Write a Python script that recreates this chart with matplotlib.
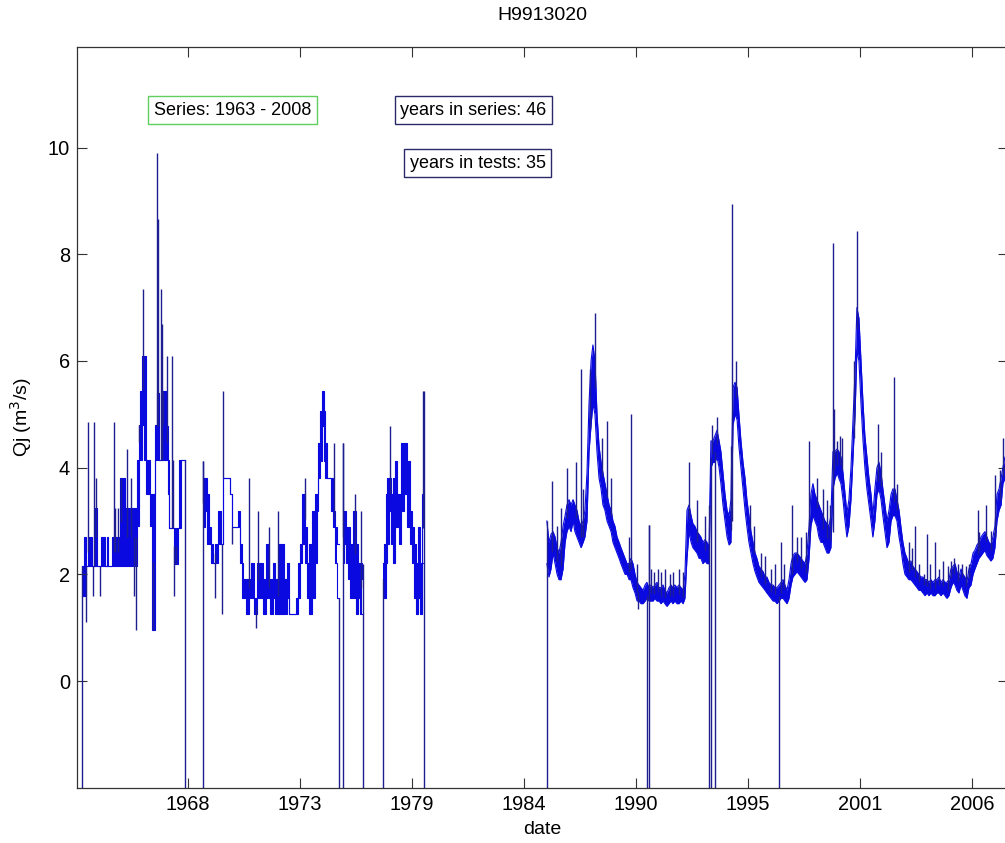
import numpy as np
import matplotlib.pyplot as plt

plt.rcParams['font.family'] = ['Liberation Sans', 'DejaVu Sans']

# daily discharge Qj (m3/s), reduced to min / max per short bin (decimal years)
# 1963 - 1967
yr_a = [1963.12, 1963.21, 1963.31, 1963.41, 1963.61, 1963.75, 1963.85, 1964.05, 1964.24, 1964.32,
        1964.40, 1964.57, 1964.98, 1965.22, 1965.55, 1965.63, 1965.79, 1965.88, 1965.95, 1966.05,
        1966.15, 1966.25, 1966.44, 1966.54, 1966.69, 1966.78, 1966.88, 1967.03, 1967.22, 1967.30,
        1967.35, 1967.61, 1967.81, 1967.88, 1967.96]
lo_a = [1.6, 1.6, 2.15, 2.15, 2.15, 2.15, 2.15, 2.15, 2.15, 2.15,
        2.15, 2.15, 2.15, 2.15, 2.7, 2.15, 2.9, 4.15, 4.15, 4.8,
        4.15, 3.5, 2.9, 0.95, 4.15, 4.15, 4.15, 4.15, 4.15, 3.5,
        2.87, 2.2, 2.87, 2.87, 4.15]
hi_a = [2.15, 2.7, 2.15, 2.7, 2.15, 3.25, 2.15, 2.7, 2.15, 2.7,
        2.15, 2.7, 3.8, 3.25, 3.25, 3.25, 4.15, 4.8, 5.44, 6.1,
        6.1, 4.15, 3.5, 3.5, 4.8, 5.4, 4.15, 5.44, 4.78, 4.15,
        2.87, 2.87, 2.87, 4.15, 4.15]

# 1969 - 1975
yr_b = [1969.03, 1969.13, 1969.23, 1969.33, 1969.43, 1969.52, 1969.62, 1969.77, 1969.91, 1970.00,
        1970.35, 1970.44, 1970.75, 1970.84, 1970.92, 1970.99, 1971.14, 1971.28, 1971.38, 1971.53,
        1971.67, 1971.82, 1971.97, 1972.11, 1972.21, 1972.31, 1972.46, 1972.55, 1972.75, 1972.99,
        1973.14, 1973.24, 1973.58, 1973.68, 1973.78, 1973.88, 1974.02, 1974.12, 1974.22, 1974.36,
        1974.51, 1974.61, 1974.68, 1974.76, 1974.85, 1974.95, 1975.02, 1975.10, 1975.29, 1975.39,
        1975.49, 1975.59]
lo_b = [2.88, 3.19, 2.57, 2.57, 2.22, 2.22, 2.22, 2.57, 2.57, 3.81,
        3.51, 2.88, 2.88, 2.22, 1.56, 1.56, 1.26, 1.56, 1.56, 1.26,
        1.56, 1.56, 1.26, 1.56, 1.56, 1.26, 1.56, 1.26, 1.26, 1.26,
        1.56, 1.26, 1.26, 1.56, 2.22, 2.57, 2.22, 1.56, 1.26, 1.56,
        2.22, 3.19, 3.81, 4.13, 4.78, 4.13, 3.81, 3.81, 3.19, 2.88,
        2.22, 1.56]
hi_b = [3.81, 3.81, 3.51, 2.88, 2.57, 2.22, 2.57, 3.19, 2.57, 3.81,
        3.51, 2.88, 3.19, 2.57, 2.22, 1.91, 1.91, 1.91, 2.22, 1.56,
        2.22, 2.22, 1.91, 2.57, 1.91, 1.91, 2.22, 1.91, 2.57, 1.91,
        2.22, 1.26, 1.56, 2.22, 2.57, 3.51, 2.88, 2.22, 2.57, 3.19,
        3.51, 3.51, 4.47, 5.07, 5.44, 5.07, 4.47, 3.81, 3.81, 3.19,
        2.88, 2.57]

# 1975 - 1976
yr_c = [1975.88, 1975.93, 1976.03, 1976.12, 1976.22, 1976.37, 1976.52, 1976.61, 1976.71, 1976.81]
lo_c = [2.22, 2.57, 2.22, 1.91, 1.56, 1.56, 1.26, 1.56, 1.26, 1.26]
hi_c = [3.19, 3.19, 2.88, 2.88, 2.57, 3.19, 2.57, 2.22, 2.22, 1.91]

# 1977 - 1979
yr_d = [1977.84, 1977.88, 1977.96, 1978.03, 1978.13, 1978.23, 1978.32, 1978.42, 1978.52, 1978.62,
        1978.72, 1978.86, 1979.01, 1979.16, 1979.25, 1979.35, 1979.45, 1979.55, 1979.64, 1979.74]
lo_d = [1.91, 1.56, 2.22, 2.57, 3.19, 2.57, 2.22, 2.88, 2.88, 2.57,
        3.19, 3.51, 2.88, 2.57, 2.22, 1.56, 1.26, 1.56, 1.26, 2.22]
hi_d = [2.22, 2.57, 3.51, 3.81, 3.81, 3.51, 3.81, 4.13, 3.51, 3.51,
        4.47, 4.47, 4.13, 3.19, 2.88, 2.57, 2.22, 2.88, 2.22, 3.51]

# 1985 - 2008
yr_e = [1985.85, 1985.95, 1986.05, 1986.15, 1986.25, 1986.35, 1986.44, 1986.54, 1986.64, 1986.74,
        1986.83, 1986.93, 1987.03, 1987.13, 1987.22, 1987.32, 1987.42, 1987.52, 1987.62, 1987.71,
        1987.81, 1987.91, 1988.01, 1988.10, 1988.20, 1988.30, 1988.40, 1988.50, 1988.59, 1988.69,
        1988.79, 1988.89, 1988.99, 1989.08, 1989.18, 1989.28, 1989.38, 1989.47, 1989.57, 1989.67,
        1989.77, 1989.87, 1989.96, 1990.06, 1990.16, 1990.26, 1990.35, 1990.45, 1990.55, 1990.65,
        1990.74, 1990.84, 1990.94, 1991.04, 1991.13, 1991.23, 1991.33, 1991.43, 1991.53, 1991.62,
        1991.72, 1991.82, 1991.92, 1992.01, 1992.11, 1992.21, 1992.31, 1992.41, 1992.51, 1992.60,
        1992.70, 1992.80, 1992.90, 1992.99, 1993.09, 1993.19, 1993.29, 1993.38, 1993.48, 1993.58,
        1993.68, 1993.78, 1993.87, 1993.97, 1994.07, 1994.17, 1994.27, 1994.36, 1994.46, 1994.56,
        1994.66, 1994.76, 1994.85, 1994.95, 1995.05, 1995.15, 1995.24, 1995.34, 1995.44, 1995.54,
        1995.63, 1995.73, 1995.83, 1995.93, 1996.03, 1996.12, 1996.22, 1996.32, 1996.42, 1996.52,
        1996.61, 1996.71, 1996.81, 1996.91, 1997.00, 1997.10, 1997.20, 1997.30, 1997.40, 1997.49,
        1997.59, 1997.69, 1997.79, 1997.88, 1997.98, 1998.08, 1998.18, 1998.28, 1998.37, 1998.47,
        1998.57, 1998.67, 1998.76, 1998.86, 1998.96, 1999.06, 1999.15, 1999.25, 1999.35, 1999.45,
        1999.55, 1999.64, 1999.74, 1999.84, 1999.94, 2000.04, 2000.13, 2000.23, 2000.33, 2000.43,
        2000.52, 2000.62, 2000.72, 2000.82, 2000.92, 2001.01, 2001.11, 2001.21, 2001.31, 2001.40,
        2001.50, 2001.60, 2001.70, 2001.79, 2001.89, 2001.99, 2002.09, 2002.19, 2002.28, 2002.38,
        2002.48, 2002.58, 2002.68, 2002.77, 2002.87, 2002.97, 2003.07, 2003.16, 2003.26, 2003.36,
        2003.46, 2003.55, 2003.65, 2003.75, 2003.85, 2003.95, 2004.04, 2004.14, 2004.24, 2004.34,
        2004.44, 2004.53, 2004.63, 2004.73, 2004.83, 2004.92, 2005.02, 2005.12, 2005.22, 2005.32,
        2005.41, 2005.51, 2005.61, 2005.71, 2005.81, 2005.90, 2006.00, 2006.10, 2006.20, 2006.29,
        2006.39, 2006.49, 2006.59, 2006.69, 2006.78, 2006.88, 2006.98, 2007.08, 2007.17, 2007.27,
        2007.37, 2007.47, 2007.56, 2007.66, 2007.76, 2007.86, 2007.96, 2008.06, 2008.15, 2008.25]
lo_e = [2.2, 1.95, 2.1, 2.4, 2.2, 2.0, 1.9, 1.9, 2.1, 2.6,
        2.8, 2.9, 2.8, 3.0, 2.8, 2.7, 2.6, 2.5, 2.6, 2.7,
        3.0, 4.3, 4.8, 5.2, 5.0, 4.3, 3.8, 3.6, 3.3, 3.2,
        3.0, 2.9, 2.8, 2.6, 2.5, 2.4, 2.3, 2.2, 2.1, 2.0,
        2.0, 1.9, 1.9, 1.75, 1.65, 1.5, 1.5, 1.45, 1.45, 1.5,
        1.55, 1.5, 1.5, 1.5, 1.55, 1.5, 1.5, 1.45, 1.5, 1.45,
        1.4, 1.45, 1.5, 1.45, 1.5, 1.45, 1.45, 1.5, 1.45, 1.55,
        2.3, 2.8, 2.6, 2.5, 2.45, 2.4, 2.3, 2.3, 2.2, 2.25,
        2.2, 2.2, 4.0, 4.1, 4.1, 4.2, 4.0, 3.7, 3.3, 3.0,
        2.7, 2.55, 2.6, 4.8, 5.0, 4.9, 4.4, 4.0, 3.6, 3.2,
        2.9, 2.6, 2.4, 2.2, 2.05, 1.95, 1.85, 1.8, 1.75, 1.7,
        1.65, 1.6, 1.55, 1.5, 1.5, 1.45, 1.5, 1.55, 1.55, 1.5,
        1.45, 1.55, 1.8, 1.95, 2.0, 2.05, 2.0, 1.95, 1.9, 1.85,
        1.9, 2.3, 2.9, 3.1, 3.0, 2.9, 2.7, 2.6, 2.6, 2.5,
        2.4, 2.4, 2.5, 3.6, 3.8, 3.9, 3.8, 3.7, 3.4, 3.0,
        2.7, 2.9, 3.4, 4.2, 5.0, 6.2, 6.0, 5.2, 4.5, 4.0,
        3.6, 3.3, 3.0, 2.7, 3.0, 3.5, 3.6, 3.4, 3.1, 2.8,
        2.5, 2.6, 3.0, 3.1, 3.1, 3.0, 2.7, 2.5, 2.2, 2.0,
        1.95, 1.9, 1.9, 1.85, 1.8, 1.75, 1.7, 1.7, 1.65, 1.6,
        1.65, 1.6, 1.65, 1.6, 1.6, 1.65, 1.65, 1.6, 1.65, 1.6,
        1.55, 1.6, 1.75, 1.85, 1.8, 1.7, 1.65, 1.8, 1.7, 1.6,
        1.55, 1.75, 1.8, 2.0, 2.1, 2.2, 2.3, 2.35, 2.4, 2.45,
        2.35, 2.3, 2.25, 2.3, 2.5, 3.0, 3.2, 3.3, 3.7, 3.8]
hi_e = [3.0, 2.6, 2.75, 2.8, 2.7, 2.5, 2.4, 2.6, 2.9, 3.1,
        3.3, 3.4, 3.3, 3.4, 3.3, 3.2, 3.0, 2.9, 3.0, 3.2,
        3.9, 5.2, 6.0, 6.3, 6.0, 5.0, 4.4, 4.1, 3.9, 3.7,
        3.5, 3.3, 3.2, 3.0, 2.9, 2.7, 2.6, 2.5, 2.4, 2.3,
        2.2, 2.2, 2.3, 2.2, 2.0, 1.85, 1.8, 1.75, 1.7, 1.8,
        1.85, 1.75, 1.8, 1.75, 1.8, 1.85, 1.75, 1.75, 1.8, 1.7,
        1.65, 1.75, 1.8, 1.75, 1.8, 1.75, 1.8, 1.75, 1.7, 2.0,
        3.2, 3.3, 3.1, 2.95, 2.9, 2.8, 2.75, 2.7, 2.6, 2.65,
        2.6, 2.5, 4.5, 4.5, 4.6, 4.7, 4.5, 4.3, 3.9, 3.5,
        3.2, 3.1, 3.4, 5.5, 5.6, 5.5, 5.0, 4.5, 4.1, 3.8,
        3.4, 3.1, 2.8, 2.6, 2.4, 2.3, 2.15, 2.1, 2.05, 1.95,
        1.95, 1.85, 1.8, 1.8, 1.75, 1.75, 1.8, 1.85, 1.9, 1.8,
        1.7, 1.9, 2.2, 2.35, 2.4, 2.4, 2.35, 2.3, 2.25, 2.2,
        2.4, 2.9, 3.5, 3.7, 3.5, 3.4, 3.3, 3.2, 3.1, 3.0,
        2.95, 2.9, 3.1, 4.3, 4.3, 4.35, 4.3, 4.2, 3.9, 3.5,
        3.15, 3.4, 4.0, 4.9, 5.8, 7.0, 6.8, 6.0, 5.2, 4.6,
        4.2, 3.8, 3.5, 3.1, 3.6, 4.0, 4.1, 3.9, 3.6, 3.3,
        3.0, 3.2, 3.5, 3.6, 3.6, 3.4, 3.2, 2.9, 2.6, 2.4,
        2.3, 2.2, 2.25, 2.15, 2.1, 2.05, 2.0, 1.95, 1.95, 1.9,
        1.9, 1.85, 1.9, 1.85, 1.9, 1.9, 1.95, 1.85, 1.9, 1.85,
        1.85, 1.9, 2.1, 2.15, 2.2, 2.05, 1.95, 2.1, 2.0, 1.95,
        1.85, 2.1, 2.2, 2.4, 2.45, 2.55, 2.6, 2.7, 2.75, 2.8,
        2.7, 2.6, 2.55, 2.7, 2.9, 3.5, 3.6, 3.8, 4.0, 4.2]

# where each run of data stops
seg_end = [1968.15, 1975.68, 1976.86, 1979.84, 2008.40]

# single-day peaks and dips sticking out of the band
spike_yr = [1963.30, 1963.42, 1963.67, 1963.72, 1963.80, 1964.00, 1964.66, 1964.73, 1964.86, 1965.02,
            1965.34, 1965.53, 1965.67, 1965.76, 1965.90, 1966.11, 1966.60, 1966.78, 1966.82, 1966.96,
            1967.01, 1967.09, 1967.26, 1967.53, 1967.58, 1967.61, 1967.69,
            1969.05, 1969.62, 1969.95, 1970.00, 1970.44, 1971.30, 1971.61, 1971.74, 1972.28, 1972.72,
            1974.01, 1975.45, 1975.89, 1976.47, 1976.75, 1978.18, 1979.79,
            1986.08, 1986.36, 1986.53, 1986.83, 1987.27, 1987.52, 1987.60, 1987.96, 1988.20, 1988.53,
            1988.77, 1988.98, 1989.88, 1989.96, 1990.26, 1990.30, 1990.83, 1990.94, 1991.09, 1991.28,
            1991.43, 1991.62, 1991.87, 1992.01, 1992.31, 1992.51, 1992.81, 1993.20, 1993.58, 1993.91,
            1994.18, 1994.84, 1994.92, 1995.10, 1995.78, 1995.98, 1996.32, 1996.52, 1996.81, 1997.00,
            1997.28, 1997.43, 1997.85, 1998.08, 1998.28, 1998.52, 1998.68, 1999.04, 1999.35, 1999.55,
            1999.69, 1999.83, 1999.91, 2000.02, 2000.18, 2000.29, 2000.87, 2001.03, 2002.03, 2002.19,
            2002.82, 2002.97, 2003.55, 2003.70, 2003.85, 2004.04, 2004.29, 2004.45, 2004.58, 2004.83,
            2005.02, 2005.22, 2005.46, 2005.61, 2005.76, 2005.95, 2006.15, 2006.34, 2006.49, 2006.91,
            2006.98, 2007.31, 2007.55, 2007.76, 2008.01, 2008.17]
spike_q = [1.1, 4.85, 1.6, 4.85, 3.8, 1.6, 4.85, 3.25, 3.25, 3.8,
           4.35, 3.8, 1.6, 0.95, 4.8, 7.35, 0.95, 9.9, 8.67, 7.35,
           6.7, 5.44, 6.1, 6.1, 4.15, 1.6, 2.2,
           4.13, 1.56, 1.26, 5.44, 2.57, 3.81, 1.0, 3.19, 2.88, 3.19,
           3.81, 4.47, 4.47, 3.51, 3.19, 4.78, 5.44,
           3.75, 2.9, 3.25, 4.0, 4.1, 5.85, 3.6, 5.85, 6.9, 4.56,
           4.87, 3.8, 2.7, 5.0, 2.2, 1.35, 2.93, 2.1, 2.05, 2.1,
           2.05, 2.1, 2.0, 2.05, 2.1, 2.05, 4.1, 3.4, 3.1, 4.8,
           4.94, 4.4, 8.95, 6.0, 3.3, 2.9, 2.4, 2.35, 2.1, 2.2,
           2.6, 2.2, 3.3, 2.7, 2.7, 2.8, 4.5, 3.8, 3.6, 3.4,
           3.3, 8.22, 5.1, 4.5, 4.6, 4.56, 6.0, 8.44, 4.82, 4.3,
           5.7, 3.7, 2.6, 2.5, 2.9, 2.2, 2.0, 2.75, 2.2, 2.6,
           2.1, 2.25, 2.15, 2.25, 2.3, 2.2, 2.2, 2.15, 2.2, 3.2,
           2.8, 3.3, 2.81, 3.86, 3.96, 4.56]

# days carrying the missing-value code: the line drops off the bottom
drop_yr = [1963.12, 1968.15, 1969.03, 1975.68, 1975.88, 1976.86, 1977.84, 1979.84,
           1985.86, 1990.73, 1990.83, 1993.79, 1993.86, 1994.08, 1997.20]
drop_top = [2.15, 4.15, 4.13, 1.56, 4.47, 2.2, 1.91, 5.44,
            3.0, 1.6, 2.93, 3.3, 4.2, 4.3, 1.6]

tick_yr = [1968.30, 1973.78, 1979.25, 1984.73, 1990.21, 1995.68, 2001.16, 2006.64]
tick_lab = ['1968', '1973', '1979', '1984', '1990', '1995', '2001', '2006']

# early record: coarse rating steps, drawn as steps
yr, lo, hi = [], [], []
for (s_yr, s_lo, s_hi), end in zip([(yr_a, lo_a, hi_a), (yr_b, lo_b, hi_b), (yr_c, lo_c, hi_c),
                                    (yr_d, lo_d, hi_d)], seg_end[:4]):
    yr += list(s_yr) + [end]
    lo += list(s_lo) + [np.nan]
    hi += list(s_hi) + [np.nan]
yr = np.array(yr)
lo = np.array(lo)
hi = np.array(hi)

# later record: finer values, drawn as a continuous band
yr2 = np.array(yr_e + [seg_end[4]])
lo2 = np.array(lo_e + [lo_e[-1]])
hi2 = np.array(hi_e + [hi_e[-1]])

blue = '#0a0ae0'
thin = '#1e1e90'

fig = plt.figure(figsize=(10.05, 8.43), dpi=100)
ax = fig.add_axes([0.0766, 0.0656, 0.9264, 0.8783])

ax.fill_between(yr, lo, hi, step='post', color=blue, lw=0)
ax.plot(yr, lo, drawstyle='steps-post', color=blue, lw=0.8)
ax.plot(yr, hi, drawstyle='steps-post', color=blue, lw=0.8)

ax.fill_between(yr2, lo2, hi2, color=blue, lw=0)
ax.plot(yr2, lo2, color=blue, lw=0.8)
ax.plot(yr2, hi2, color=blue, lw=0.8)

all_yr = np.concatenate([yr, yr2])
all_mid = np.concatenate([(lo + hi) / 2, (lo2 + hi2) / 2])
idx = np.searchsorted(all_yr, spike_yr, side='right') - 1
base = all_mid[idx]
ax.vlines(spike_yr, base, spike_q, color=thin, lw=1.0)
ax.vlines(drop_yr, -10, drop_top, color=thin, lw=1.0)

ax.set_xlim(1962.87, 2008.40)
ax.set_ylim(-2.0, 11.88)
ax.set_xticks(tick_yr, tick_lab)
ax.set_yticks([0, 2, 4, 6, 8, 10])
ax.tick_params(direction='in', top=True, right=True, length=7, width=0.8,
               labelsize=14.4, pad=5, color='#333333')
for s in ax.spines.values():
    s.set_color('#333333')
    s.set_linewidth(0.9)

ax.set_title('H9913020', fontsize=14, pad=20)
ax.set_xlabel('date', fontsize=14, labelpad=5)
ax.set_ylabel('Qj (m$^3$/s)', fontsize=14, labelpad=10)

ax.text(1970.48, 10.70, 'Series: 1963 - 2008', fontsize=13, ha='center', va='center',
        bbox=dict(boxstyle='square,pad=0.3', fc='white', ec='#5fcf5f', lw=1))
ax.text(1982.26, 10.70, 'years in series: 46', fontsize=13, ha='center', va='center',
        bbox=dict(boxstyle='square,pad=0.3', fc='white', ec='#2a2a6a', lw=1))
ax.text(1982.47, 9.71, 'years in tests: 35', fontsize=13, ha='center', va='center',
        bbox=dict(boxstyle='square,pad=0.3', fc='white', ec='#2a2a6a', lw=1))

fig.savefig('out.png', dpi=100)
